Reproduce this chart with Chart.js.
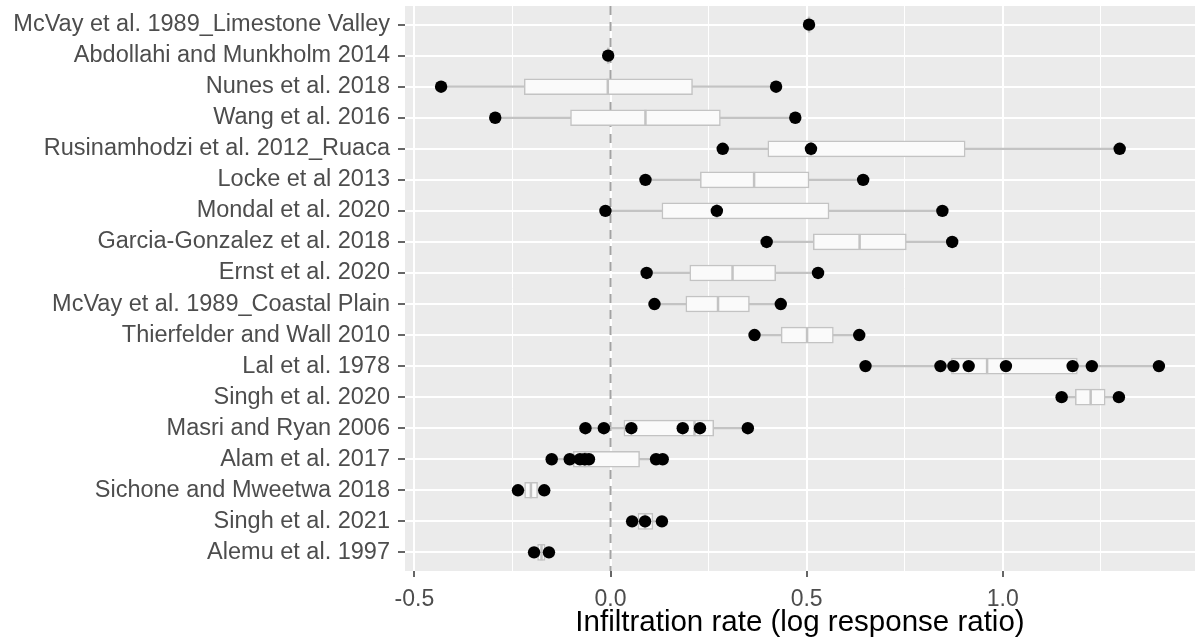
<!DOCTYPE html>
<html>
<head>
<meta charset="utf-8">
<script src="https://cdn.jsdelivr.net/npm/chart.js@4/dist/chart.umd.min.js"></script>
<style>
  body { margin: 0; background: #fff; }
  #wrap { width: 1196px; height: 644px; position: relative; }
</style>
</head>
<body>
<div id="wrap"><canvas id="graph"></canvas></div>
<script>
/* infiltration rate by study : boxplot + raw observations */

const studies = [
  "McVay et al. 1989_Limestone Valley",
  "Abdollahi and Munkholm 2014",
  "Nunes et al. 2018",
  "Wang et al. 2016",
  "Rusinamhodzi et al. 2012_Ruaca",
  "Locke et al 2013",
  "Mondal et al. 2020",
  "Garcia-Gonzalez et al. 2018",
  "Ernst et al. 2020",
  "McVay et al. 1989_Coastal Plain",
  "Thierfelder and Wall 2010",
  "Lal et al. 1978",
  "Singh et al. 2020",
  "Masri and Ryan 2006",
  "Alam et al. 2017",
  "Sichone and Mweetwa 2018",
  "Singh et al. 2021",
  "Alemu et al. 1997"
];

// log response ratio, one list per study
const obs = [
  [0.506],
  [-0.006],
  [-0.432, 0.422],
  [-0.294, 0.471],
  [0.286, 0.511, 1.298],
  [0.089, 0.644],
  [-0.013, 0.271, 0.846],
  [0.398, 0.871],
  [0.092, 0.529],
  [0.112, 0.434],
  [0.367, 0.634],
  [0.650, 0.841, 0.874, 0.913, 1.008, 1.178, 1.227, 1.398],
  [1.150, 1.296],
  [-0.064, -0.017, 0.053, 0.184, 0.228, 0.350],
  [-0.150, -0.104, -0.078, -0.066, -0.055, 0.116, 0.133],
  [-0.236, -0.169],
  [0.055, 0.088, 0.131],
  [-0.195, -0.157]
];

const q1  = [0.506, -0.006, -0.220, -0.102, 0.401, 0.229, 0.131, 0.517, 0.202, 0.192, 0.435, 0.869, 1.185, 0.034, -0.095, -0.219, 0.070, -0.186];
const med = [0.506, -0.006, -0.007, 0.089, 0.511, 0.366, 0.271, 0.635, 0.311, 0.274, 0.501, 0.960, 1.224, 0.214, -0.065, -0.203, 0.088, -0.176];
const q3  = [0.506, -0.006, 0.209, 0.280, 0.904, 0.506, 0.557, 0.754, 0.421, 0.354, 0.568, 1.190, 1.261, 0.263, 0.074, -0.186, 0.108, -0.167];

const xMajor = [-0.5, 0, 0.5, 1.0];
const xLabels = ["-0.5", "0.0", "0.5", "1.0"];
const xMinor = [-0.25, 0.25, 0.75, 1.25];
const xMin = -0.524, xMax = 1.49;

// chart data
const pts = [];
obs.forEach((row, i) => row.forEach(v => pts.push({x: v, y: i})));
const whiskers = obs.map((row, i) => ({y: i, x: [Math.min(...row), Math.max(...row)]}));
const boxes = studies.map((s, i) => ({y: i, x: [q1[i], q3[i]]}));
const medians = med.map((v, i) => ({x: v, y: i}));

const grey = "#c3c3c3";
const font = "'Liberation Sans', Arial, Helvetica, sans-serif";

const panel = {
  id: "panel",
  beforeDraw(chart) {
    const {ctx, chartArea: a} = chart;
    ctx.save();
    ctx.fillStyle = "#ebebeb";
    ctx.fillRect(a.left, a.top, a.right - a.left, a.bottom - a.top);
    ctx.restore();
  },
  beforeDatasetsDraw(chart) {
    // dashed reference line at zero
    const {ctx, chartArea: a, scales} = chart;
    const x0 = scales.x.getPixelForValue(0);
    ctx.save();
    ctx.strokeStyle = "#a3a3a3";
    ctx.lineWidth = 2;
    ctx.setLineDash([9, 7]);
    ctx.beginPath();
    ctx.moveTo(x0, a.top);
    ctx.lineTo(x0, a.bottom);
    ctx.stroke();
    ctx.restore();
  }
};

new Chart(document.getElementById("graph"), {
  type: "bar",
  data: {
    datasets: [
      {
        type: "scatter",
        data: pts,
        pointRadius: 6.2,
        pointHoverRadius: 6.2,
        pointBackgroundColor: "#000",
        pointBorderWidth: 0
      },
      {
        type: "scatter",
        data: medians,
        pointStyle: "line",
        rotation: 90,
        pointRadius: 8,
        pointHoverRadius: 8,
        pointBorderColor: grey,
        pointBorderWidth: 2.5
      },
      {
        data: boxes,
        grouped: false,
        barThickness: 16,
        backgroundColor: "#fafafa",
        borderColor: grey,
        borderWidth: 1.5,
        borderSkipped: false
      },
      {
        data: whiskers,
        grouped: false,
        barThickness: 1.6,
        backgroundColor: grey,
        borderWidth: 0
      }
    ]
  },
  options: {
    indexAxis: "y",
    responsive: true,
    maintainAspectRatio: false,
    animation: false,
    layout: { autoPadding: false, padding: { top: 6, right: 1, left: 0, bottom: 0 } },
    plugins: { legend: { display: false }, tooltip: { enabled: false } },
    scales: {
      x: {
        type: "linear",
        min: xMin,
        max: xMax,
        offset: false,
        afterBuildTicks: s => {
          s.ticks = xMajor.concat(xMinor).sort((a, b) => a - b).map(v => ({value: v}));
        },
        afterFit: s => { s.height = 73; s.paddingLeft = 0; s.paddingRight = 0; },
        border: { display: false },
        grid: {
          offset: false,
          color: "#ffffff",
          lineWidth: c => xMajor.includes(c.tick.value) ? 2 : 1,
          tickColor: c => xMajor.includes(c.tick.value) ? "#333333" : "rgba(0,0,0,0)",
          tickWidth: 1.5,
          tickLength: 6
        },
        ticks: {
          autoSkip: false,
          maxRotation: 0,
          padding: 9,
          color: "#4d4d4d",
          font: { family: font, size: 23 },
          callback: v => {
            const k = xMajor.indexOf(v);
            return k < 0 ? "" : xLabels[k];
          }
        },
        title: {
          display: true,
          text: "Infiltration rate (log response ratio)",
          color: "#000",
          font: { family: font, size: 29.5 },
          padding: { top: 0, bottom: 3 }
        }
      },
      y: {
        type: "linear",
        reverse: true,
        min: -0.6,
        max: studies.length - 0.4,
        offset: false,
        afterBuildTicks: s => { s.ticks = studies.map((_, i) => ({value: i})); },
        afterFit: s => { s.width = 405; s.paddingTop = 0; s.paddingBottom = 0; },
        border: { display: false },
        grid: {
          offset: false,
          color: "#ffffff",
          lineWidth: 2,
          tickColor: "#333333",
          tickWidth: 1.5,
          tickLength: 7
        },
        ticks: {
          autoSkip: false,
          padding: 8,
          color: "#4d4d4d",
          font: { family: font, size: 23.5 },
          callback: v => studies[v]
        }
      }
    }
  },
  plugins: [panel]
});
</script>
</body>
</html>
